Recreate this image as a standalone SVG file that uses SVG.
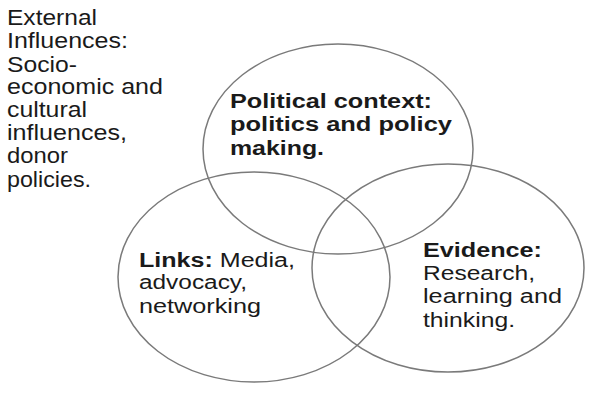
<svg xmlns="http://www.w3.org/2000/svg" width="600" height="402" viewBox="0 0 600 402">
<style>
.c{fill:none;stroke:#7a7a7a;stroke-width:1.5}
.t{font-family:"Liberation Sans",Arial,sans-serif;font-size:20px;fill:#1a1a1a}
.l{font-size:21.5px}
.b{font-weight:bold}
</style>
<rect width="600" height="402" fill="#fff"/>
<g id="external">
<text class="t l" x="7" y="25" textLength="90" lengthAdjust="spacingAndGlyphs">External</text>
<text class="t l" x="7" y="48" textLength="121" lengthAdjust="spacingAndGlyphs">Influences:</text>
<text class="t l" x="7" y="72" textLength="70" lengthAdjust="spacingAndGlyphs">Socio-</text>
<text class="t l" x="7" y="94" textLength="156" lengthAdjust="spacingAndGlyphs">economic and</text>
<text class="t l" x="7" y="117" textLength="80" lengthAdjust="spacingAndGlyphs">cultural</text>
<text class="t l" x="7" y="140" textLength="120" lengthAdjust="spacingAndGlyphs">influences,</text>
<text class="t l" x="7" y="163" textLength="61" lengthAdjust="spacingAndGlyphs">donor</text>
<text class="t l" x="7" y="187" textLength="84" lengthAdjust="spacingAndGlyphs">policies.</text>
</g>
<g id="political">
<ellipse class="c" cx="338" cy="149" rx="135" ry="105"/>
<text class="t b" x="230" y="108" textLength="202" lengthAdjust="spacingAndGlyphs">Political context:</text>
<text class="t b" x="230" y="131" textLength="222" lengthAdjust="spacingAndGlyphs">politics and policy</text>
<text class="t b" x="230" y="155" textLength="94" lengthAdjust="spacingAndGlyphs">making.</text>
</g>
<g id="links">
<ellipse class="c" cx="254" cy="277" rx="136" ry="105"/>
<text class="t" x="139" y="267" textLength="156" lengthAdjust="spacingAndGlyphs"><tspan class="b">Links:</tspan> Media,</text>
<text class="t" x="139" y="289" textLength="108" lengthAdjust="spacingAndGlyphs">advocacy,</text>
<text class="t" x="139" y="313" textLength="122" lengthAdjust="spacingAndGlyphs">networking</text>
</g>
<g id="evidence">
<ellipse class="c" cx="448" cy="268" rx="136" ry="104"/>
<text class="t b" x="423" y="257" textLength="119" lengthAdjust="spacingAndGlyphs">Evidence:</text>
<text class="t" x="423" y="280" textLength="112" lengthAdjust="spacingAndGlyphs">Research,</text>
<text class="t" x="423" y="303" textLength="139" lengthAdjust="spacingAndGlyphs">learning and</text>
<text class="t" x="423" y="327" textLength="92" lengthAdjust="spacingAndGlyphs">thinking.</text>
</g>
<g id="connectors"></g>
</svg>
